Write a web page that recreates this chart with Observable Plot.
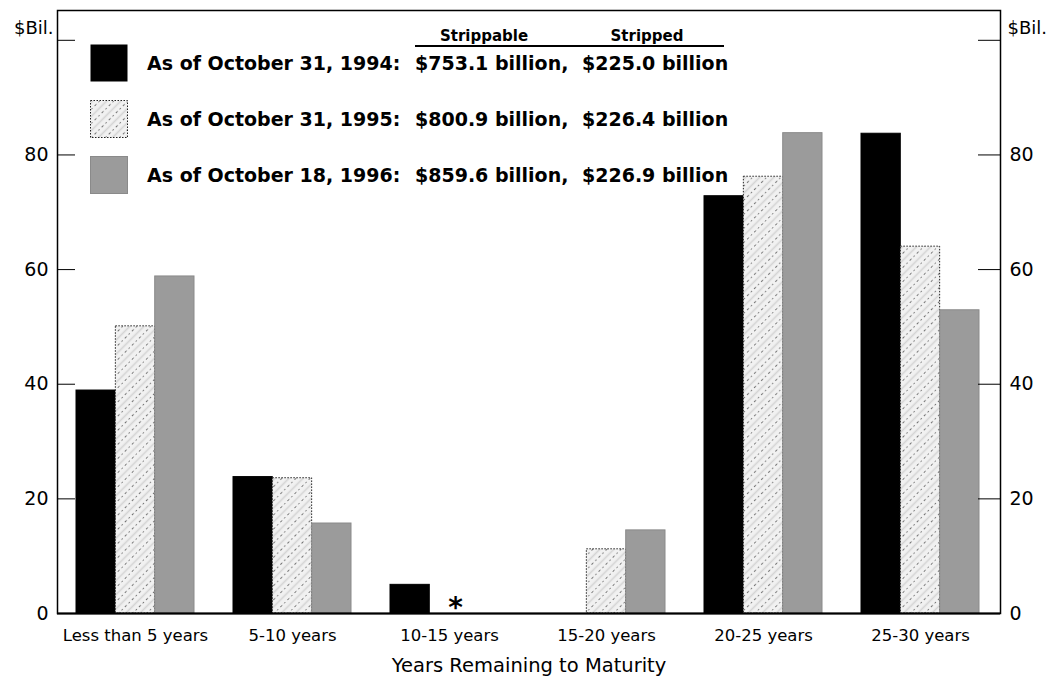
<!DOCTYPE html>
<html><head><meta charset="utf-8">
<script src="https://cdn.jsdelivr.net/npm/d3@7"></script>
<script src="https://cdn.jsdelivr.net/npm/@observablehq/plot@0.6"></script>
<style>
body{margin:0;background:#fff;font-family:"DejaVu Sans",sans-serif;}
#wrap{position:relative;width:1053px;height:683px;overflow:hidden;}
#wrap svg.chart{position:absolute;left:0;top:0;}
.lg{position:absolute;white-space:nowrap;font-weight:bold;font-size:19px;line-height:1;color:#000;}
.row{position:absolute;height:38px;display:flex;align-items:center;}
.hdr{position:absolute;white-space:nowrap;font-weight:bold;font-size:15px;line-height:1;transform:translateX(-50%);}
.uline{position:absolute;height:1.6px;background:#000;}
.sw{position:absolute;width:38px;height:38px;}
</style></head><body>
<svg width="0" height="0" style="position:absolute">
  <defs>
    <pattern id="hatch" patternUnits="userSpaceOnUse" width="10" height="10" patternTransform="rotate(-45)">
      <rect width="10" height="10" fill="#f1f1f1"/>
      <line x1="0" y1="2.5" x2="10" y2="2.5" stroke="#d4d4d4" stroke-width="1.6"/>
      <line x1="0" y1="7.5" x2="10" y2="7.5" stroke="#555" stroke-width="0.8" stroke-dasharray="1.5,3"/>
    </pattern>
  </defs>
</svg>
<div id="wrap"></div>
<script>
// ---- data ----
const categories = ["Less than 5 years", "5-10 years", "10-15 years", "15-20 years", "20-25 years", "25-30 years"];
const seriesLabels = ["As of October 31, 1994:", "As of October 31, 1995:", "As of October 18, 1996:"];
const strippableText = ["$753.1 billion,", "$800.9 billion,", "$859.6 billion,"];
const strippedText = ["$225.0 billion", "$226.4 billion", "$226.9 billion"];
const headerText = ["Strippable", "Stripped"];
const values1994 = [38.9, 23.8, 5.0, 0, 72.8, 83.7];
const values1995 = [50.1, 23.6, 0, 11.2, 76.2, 64.0];
const values1996 = [58.8, 15.7, 0, 14.5, 83.8, 52.9];
const yTickLabels = [0, 20, 40, 60, 80];
const yTickMarks = [0, 20, 40, 60, 80, 100];
const starCategory = "10-15 years";
const unitLabel = "$Bil.";
const xTitle = "Years Remaining to Maturity";

// ---- layout ----
const W = 1053, H = 683, mL = 57, mR = 53, mT = 10, mB = 70;
const padInner = 0.25, padOuter = 0.12, bandAlign = 0.46;
const band = d3.scaleBand().domain(categories).range([mL, W - mR]).paddingInner(padInner).paddingOuter(padOuter).align(bandAlign);
const w = band.bandwidth() / 3;

const seriesValues = [values1994, values1995, values1996];
const fills = ["#000", "url(#hatch)", "#9b9b9b"];
const strokes = ["#000", "#222", "#8a8a8a"];
const dashes = [null, "1.5,1.5", null];
const tables = seriesValues.map((vals, i) => categories.map((c, j) => ({category: c, series: i, value: vals[j]})));

const chart = Plot.plot({
  width: W, height: H,
  marginLeft: mL, marginRight: mR, marginTop: mT, marginBottom: mB,
  style: {fontFamily: "DejaVu Sans, sans-serif", fontSize: "16px", background: "transparent", color: "#000"},
  x: {domain: categories, paddingInner: padInner, paddingOuter: padOuter, align: bandAlign, label: null},
  y: {domain: [0, 105.2], label: null},
  marks: [
    ...tables.map((t, i) => Plot.barY(t, {
      x: "category", y: "value",
      fill: fills[i], stroke: strokes[i], strokeWidth: 1, strokeDasharray: dashes[i],
      insetLeft: i * w, insetRight: (2 - i) * w
    })),
    Plot.frame({stroke: "#000", strokeWidth: 1.5}),
    Plot.ruleY([0], {stroke: "#000", strokeWidth: 2}),
    Plot.axisY({ticks: yTickMarks, anchor: "left", tickSize: 18, dx: 18, tickFormat: () => "", label: null, stroke: "#000"}),
    Plot.axisY({ticks: yTickLabels, anchor: "left", tickSize: 0, tickPadding: 9, fontSize: 19, label: null}),
    Plot.axisY({ticks: yTickMarks, anchor: "right", tickSize: 23, dx: -23, tickFormat: () => "", label: null, stroke: "#000"}),
    Plot.axisY({ticks: yTickLabels, anchor: "right", tickSize: 0, tickPadding: 9, fontSize: 19, label: null}),
    Plot.axisX({tickSize: 0, tickPadding: 16, fontSize: 16.5, label: null}),
    Plot.text([starCategory], {x: d => d, y: () => 0, text: () => "*", fontSize: 28, fontWeight: "bold", lineAnchor: "bottom", dx: 6, dy: 3}),
    Plot.text([xTitle], {frameAnchor: "bottom", text: d => d, dy: 58, fontSize: 19.5}),
    Plot.text([unitLabel], {frameAnchor: "top-left", text: d => d, textAnchor: "end", dx: -4, dy: 11, fontSize: 18}),
    Plot.text([unitLabel], {frameAnchor: "top-right", text: d => d, textAnchor: "start", dx: 7, dy: 11, fontSize: 18})
  ]
});
chart.classList.add("chart");
// enforce tick label sizes
d3.select(chart).selectAll("g[aria-label='y-axis tick label']").style("font-size", "19px");
d3.select(chart).selectAll("g[aria-label='x-axis tick label']").style("font-size", "16.5px");
const wrap = document.getElementById("wrap");
wrap.appendChild(chart);

// ---- legend (HTML overlay) ----
const swTop = [44, 100, 156];
const swatchStroke = ["none", "#222", "#8a8a8a"];
seriesLabels.forEach((lab, i) => {
  const sw = document.createElementNS("http://www.w3.org/2000/svg", "svg");
  sw.setAttribute("class", "sw");
  sw.setAttribute("width", 38); sw.setAttribute("height", 38);
  sw.style.left = "90px"; sw.style.top = swTop[i] + "px";
  const r = document.createElementNS("http://www.w3.org/2000/svg", "rect");
  r.setAttribute("x", 0.5); r.setAttribute("y", 0.5); r.setAttribute("width", 37); r.setAttribute("height", 37);
  r.setAttribute("fill", fills[i]); r.setAttribute("stroke", swatchStroke[i]);
  if (dashes[i]) r.setAttribute("stroke-dasharray", dashes[i]);
  sw.appendChild(r);
  wrap.appendChild(sw);
  [[147, lab], [415, strippableText[i]], [582, strippedText[i]]].forEach(([x, t]) => {
    const d = document.createElement("div");
    d.className = "lg row";
    d.style.left = x + "px"; d.style.top = swTop[i] + "px";
    d.textContent = t;
    wrap.appendChild(d);
  });
});
[[484, headerText[0]], [647, headerText[1]]].forEach(([x, t]) => {
  const d = document.createElement("div");
  d.className = "hdr"; d.style.left = x + "px"; d.style.top = "29px"; d.textContent = t;
  wrap.appendChild(d);
});
const ul = document.createElement("div");
ul.className = "uline"; ul.style.left = "415px"; ul.style.top = "45px"; ul.style.width = "309px";
wrap.appendChild(ul);
</script>
</body></html>
